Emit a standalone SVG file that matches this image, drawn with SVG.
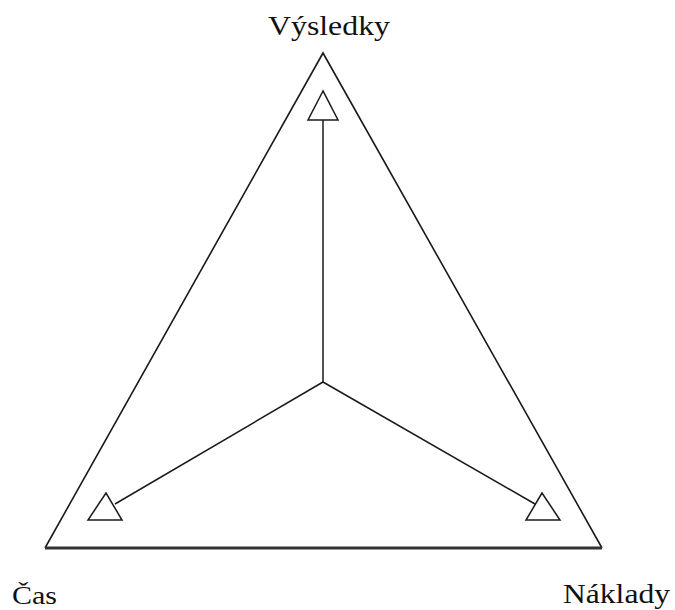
<svg xmlns="http://www.w3.org/2000/svg" width="675" height="610" viewBox="0 0 675 610">
<style>
.edge{fill:none;stroke:#1a1a1a;stroke-width:1.6;stroke-linejoin:miter}
.base{stroke:#333;stroke-width:3;fill:none}
.line{stroke:#1a1a1a;stroke-width:1.5;fill:none}
.head{fill:#fff;stroke:#1a1a1a;stroke-width:1.5;stroke-linejoin:miter}
.lbl{font-family:"Liberation Serif","Times New Roman",serif;font-size:27px;fill:#111}
</style>
<rect width="675" height="610" fill="#fff"/>
<g id="triangle">
<polyline class="edge" points="45,548 323,53 602,548"/>
<line class="base" x1="45" y1="548" x2="602" y2="548"/>
</g>
<g id="connectors">
<line class="line" x1="323" y1="382" x2="323" y2="120"/>
<line class="line" x1="323" y1="382" x2="115" y2="504"/>
<line class="line" x1="323" y1="382" x2="535" y2="504"/>
</g>
<g id="arrow-top"><polygon class="head" points="323,91 308,120 338,120"/></g>
<g id="arrow-left"><polygon class="head" points="106,493 88,520 122,520"/></g>
<g id="arrow-right"><polygon class="head" points="542,493 526,520 560,520"/></g>
<g id="label-vysledky"><text class="lbl" x="268" y="35" textLength="122" lengthAdjust="spacingAndGlyphs">Výsledky</text></g>
<g id="label-cas"><text class="lbl" x="12" y="604" style="font-size:26px" textLength="45" lengthAdjust="spacingAndGlyphs">Čas</text></g>
<g id="label-naklady"><text class="lbl" x="563" y="603" textLength="107" lengthAdjust="spacingAndGlyphs">Náklady</text></g>
</svg>
